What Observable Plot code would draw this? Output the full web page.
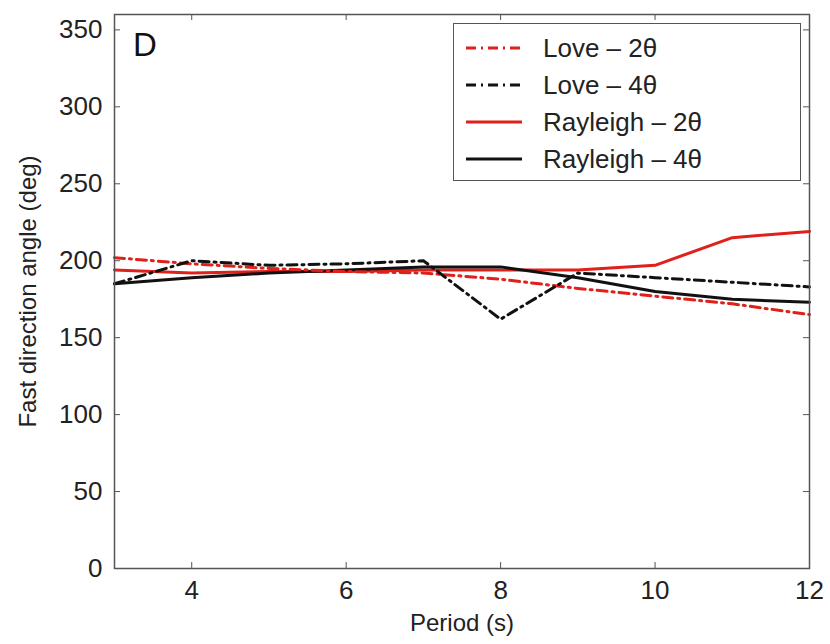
<!DOCTYPE html>
<html><head><meta charset="utf-8">
<script src="https://cdn.jsdelivr.net/npm/d3@7"></script>
<script src="https://cdn.jsdelivr.net/npm/@observablehq/plot@0.6"></script>
<style>
body{margin:0;background:#fff;}
#wrap{position:relative;width:830px;height:644px;font-family:"Liberation Sans",Arial,sans-serif;}
#legend{position:absolute;left:453px;top:23px;width:348px;height:158px;border:1.5px solid #555;background:#fff;box-sizing:border-box;}
.row{position:absolute;left:0;height:36px;display:flex;align-items:center;}
.row span{font-size:26px;color:#222;margin-left:20px;}
#panel{position:absolute;left:133px;top:26px;font-size:33px;color:#111;}
</style>
</head><body><div id="wrap"></div>
<script>
const periods = [3,4,5,6,7,8,9,10,11,12];
const love2 = [202,198,195,193,192,188,182,177,172,165];
const love4 = [185,200,197,198,200,162,192,189,186,183];
const rayl2 = [194,192,193,193,194,194,194,197,215,219];
const rayl4 = [185,189,192,194,196,196,189,180,175,173];
const seriesNames = ["Love – 2θ","Love – 4θ","Rayleigh – 2θ","Rayleigh – 4θ"];
const seriesColors = ["#e0201b","#111","#e0201b","#111"];
const seriesDash = ["10,5,2,5","10,5,2,5",null,null];
const xTicks = [4,6,8,10,12];
const yTicks = [0,50,100,150,200,250,300,350];

const allSeries = [love2, love4, rayl2, rayl4];
const rows = [];
allSeries.forEach((vals, s) => vals.forEach((v, i) => rows.push({period: periods[i], angle: v, s})));

const W = 830, H = 644, mL = 114, mR = 21, mT = 14, mB = 76;
const innerW = W - mL - mR, innerH = H - mT - mB;

const lineMarks = [2,3,0,1].map(s => Plot.line(rows.filter(d => d.s === s), {
  x: "period", y: "angle", stroke: seriesColors[s], strokeWidth: 3,
  strokeDasharray: seriesDash[s] || undefined, curve: "linear"
}));

const chart = Plot.plot({
  width: W, height: H,
  marginLeft: mL, marginRight: mR, marginTop: mT, marginBottom: mB,
  style: {fontFamily: '"Liberation Sans", Arial, sans-serif', background: "#fff", color: "#222"},
  x: {domain: [3, 12]},
  y: {domain: [0, 360]},
  marks: [
    ...lineMarks,
    Plot.ruleX(xTicks, {x: d => d, stroke: "#555", insetTop: innerH - 6}),
    Plot.ruleX(xTicks, {x: d => d, stroke: "#555", insetBottom: innerH - 6}),
    Plot.ruleY(yTicks, {y: d => d, stroke: "#555", insetRight: innerW - 6}),
    Plot.ruleY(yTicks, {y: d => d, stroke: "#555", insetLeft: innerW - 6}),
    Plot.frame({stroke: "#555", strokeWidth: 1.5}),
    Plot.axisX(xTicks, {tickSize: 0, tickPadding: 12, fontSize: 26, label: "Period (s)", labelAnchor: "center", labelOffset: 62, labelArrow: "none", anchor: "bottom"}),
    Plot.axisY(yTicks, {tickSize: 0, tickPadding: 12, fontSize: 26, label: "Fast direction angle (deg)", labelAnchor: "center", labelOffset: 96, labelArrow: "none", anchor: "left"})
  ]
});
d3.select(chart).selectAll("[aria-label='x-axis label'] text, [aria-label='y-axis label'] text").style("font-size", "24px");
const wrap = document.getElementById("wrap");
wrap.appendChild(chart);

const panel = document.createElement("div");
panel.id = "panel"; panel.textContent = "D";
wrap.appendChild(panel);

const legend = document.createElement("div");
legend.id = "legend";
seriesNames.forEach((name, s) => {
  const row = document.createElement("div");
  row.className = "row";
  row.style.top = (6 + s * 37) + "px";
  row.style.left = "11px";
  const svg = d3.create("svg").attr("width", 58).attr("height", 10);
  svg.append("line").attr("x1", 1).attr("x2", 57).attr("y1", 5).attr("y2", 5)
    .attr("stroke", seriesColors[s]).attr("stroke-width", 3)
    .attr("stroke-dasharray", seriesDash[s]);
  row.appendChild(svg.node());
  const t = document.createElement("span");
  t.textContent = name;
  row.appendChild(t);
  legend.appendChild(row);
});
wrap.appendChild(legend);
</script>
</body></html>
